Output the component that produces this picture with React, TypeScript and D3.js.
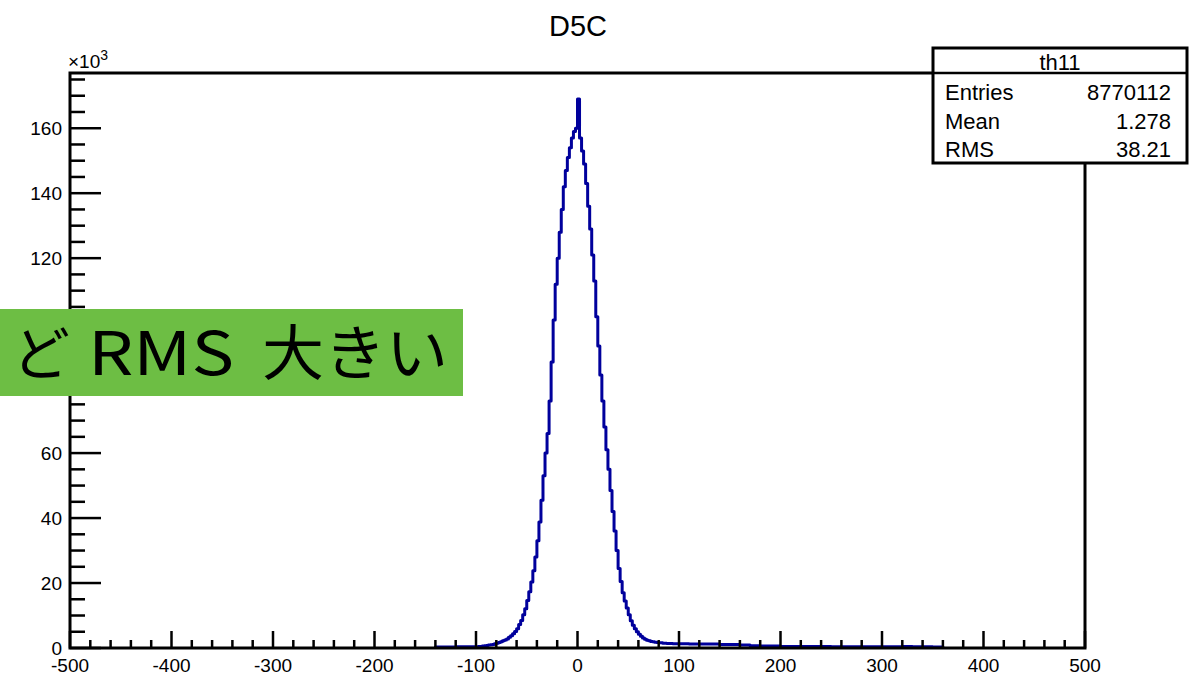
import React, { useEffect, useRef } from 'react';
import * as d3 from 'd3';

// Histogram contents in units of 10^3 entries
// left tail: 10-wide bins from -140 to -100
const leftTailCounts = [0.3, 0.3, 0.4, 0.4];
// core: 2-wide bins from -100 to 100
const coreCounts = [
    0.4, 0.5, 0.5, 0.6, 0.7, 0.8, 0.9, 1.0, 1.1, 1.3,
    1.5, 1.7, 1.9, 2.2, 2.5, 2.8, 3.3, 3.8, 4.4, 5.1,
    5.9, 7.2, 8.5, 10.2, 12.1, 14.6, 17.3, 20.3, 23.8, 28.0,
    33.0, 38.8, 45.5, 53.0, 60.0, 66.0, 76.0, 88.0, 101, 112,
    120, 128, 135, 142, 147, 151, 154, 157, 159, 160,
    169, 157, 153, 149, 143, 136, 129, 121, 113, 102,
    93, 84, 76, 68, 61, 55, 48.5, 42, 36, 30,
    24.5, 20.5, 17, 14.5, 12.3, 10.2, 8.4, 7.0, 5.9, 5.0,
    4.2, 3.6, 3.1, 2.7, 2.4, 2.2, 2.0, 1.9, 1.8, 1.7,
    1.6, 1.6, 1.5, 1.5, 1.4, 1.4, 1.4, 1.3, 1.3, 1.3,
];
// right tail: 10-wide bins from 100 to 360
const rightTailCounts = [
    1.3, 1.2, 1.2, 1.2, 1.1, 1.1, 0.9, 0.7, 0.6, 0.6,
    0.5, 0.5, 0.5, 0.5, 0.5, 0.4, 0.4, 0.4, 0.4, 0.4,
    0.4, 0.4, 0.5, 0.4, 0.4, 0.3,
];

const xTicksMajor = [-500, -400, -300, -200, -100, 0, 100, 200, 300, 400, 500];
const yTicksMajor = [0, 20, 40, 60, 80, 100, 120, 140, 160];

const statsRows = [
    ['Entries', '8770112'],
    ['Mean', '1.278'],
    ['RMS', '38.21'],
];

const App = () => {
    const svgRef = useRef();

    useEffect(() => {
        const svg = d3.select(svgRef.current);
        svg.selectAll('*').remove();

        const font = '"Liberation Sans", Arial, Helvetica, sans-serif';
        const frame = { left: 70, right: 1085, top: 73, bottom: 648 };

        const x = d3.scaleLinear().domain([-500, 500]).range([frame.left, frame.right]);
        const y = d3.scaleLinear().domain([0, 177]).range([frame.bottom, frame.top]);

        // build bin edges / counts
        const bins = [];
        leftTailCounts.forEach((c, i) => bins.push({ lo: -140 + i * 10, hi: -130 + i * 10, c }));
        coreCounts.forEach((c, i) => bins.push({ lo: -100 + i * 2, hi: -98 + i * 2, c }));
        rightTailCounts.forEach((c, i) => bins.push({ lo: 100 + i * 10, hi: 110 + i * 10, c }));

        const pts = [[bins[0].lo, 0]];
        bins.forEach((b) => pts.push([b.lo, b.c]));
        pts.push([bins[bins.length - 1].hi, bins[bins.length - 1].c]);
        pts.push([bins[bins.length - 1].hi, 0]);

        const line = d3.line()
            .x((d) => x(d[0]))
            .y((d) => y(d[1]))
            .curve(d3.curveStepAfter);

        svg.append('path')
            .attr('d', line(pts))
            .attr('fill', 'none')
            .attr('stroke', '#00009c')
            .attr('stroke-width', 3)
            .attr('stroke-linejoin', 'round');

        // frame
        svg.append('rect')
            .attr('x', frame.left)
            .attr('y', frame.top)
            .attr('width', frame.right - frame.left)
            .attr('height', frame.bottom - frame.top)
            .attr('fill', 'none')
            .attr('stroke', '#000')
            .attr('stroke-width', 3);

        // x ticks (pointing up)
        const xMinor = d3.range(-500, 501, 20);
        svg.append('g').selectAll('line')
            .data(xMinor)
            .enter()
            .append('line')
            .attr('x1', (d) => x(d))
            .attr('x2', (d) => x(d))
            .attr('y1', frame.bottom)
            .attr('y2', (d) => frame.bottom - (d % 100 === 0 ? 17 : 8))
            .attr('stroke', '#000')
            .attr('stroke-width', 2.5);

        svg.append('g').selectAll('text')
            .data(xTicksMajor)
            .enter()
            .append('text')
            .attr('x', (d) => x(d))
            .attr('y', 672)
            .attr('text-anchor', 'middle')
            .style('font-family', font)
            .style('font-size', '19px')
            .text((d) => d);

        // y ticks (pointing right)
        const yMinor = d3.range(0, 176, 5);
        svg.append('g').selectAll('line')
            .data(yMinor)
            .enter()
            .append('line')
            .attr('x1', frame.left)
            .attr('x2', (d) => frame.left + (d % 20 === 0 ? 31 : 15))
            .attr('y1', (d) => y(d))
            .attr('y2', (d) => y(d))
            .attr('stroke', '#000')
            .attr('stroke-width', 2.5);

        svg.append('g').selectAll('text')
            .data(yTicksMajor)
            .enter()
            .append('text')
            .attr('x', 62)
            .attr('y', (d) => y(d) + 7)
            .attr('text-anchor', 'end')
            .style('font-family', font)
            .style('font-size', '19px')
            .text((d) => d);

        // x10^3 multiplier
        const mult = svg.append('text')
            .attr('x', 68)
            .attr('y', 68)
            .style('font-family', font)
            .style('font-size', '19px');
        mult.append('tspan').text('\u00d710');
        mult.append('tspan').attr('dy', -8).style('font-size', '14px').text('3');

        // title
        svg.append('text')
            .attr('x', 578)
            .attr('y', 36)
            .attr('text-anchor', 'middle')
            .style('font-family', font)
            .style('font-size', '29px')
            .text('D5C');

        // stats box
        const box = { x: 933, y: 48, w: 254, h: 115 };
        svg.append('rect')
            .attr('x', box.x)
            .attr('y', box.y)
            .attr('width', box.w)
            .attr('height', box.h)
            .attr('fill', '#fff')
            .attr('stroke', '#000')
            .attr('stroke-width', 3);
        svg.append('line')
            .attr('x1', box.x)
            .attr('x2', box.x + box.w)
            .attr('y1', 73)
            .attr('y2', 73)
            .attr('stroke', '#000')
            .attr('stroke-width', 2.5);
        svg.append('text')
            .attr('x', box.x + box.w / 2)
            .attr('y', 70)
            .attr('text-anchor', 'middle')
            .style('font-family', font)
            .style('font-size', '22px')
            .text('th11');
        statsRows.forEach((r, i) => {
            const by = 100 + i * 28.5;
            svg.append('text')
                .attr('x', 945)
                .attr('y', by)
                .style('font-family', font)
                .style('font-size', '22px')
                .text(r[0]);
            svg.append('text')
                .attr('x', 1171)
                .attr('y', by)
                .attr('text-anchor', 'end')
                .style('font-family', font)
                .style('font-size', '22px')
                .text(r[1]);
        });

        // green overlay label
        svg.append('rect')
            .attr('x', 0)
            .attr('y', 309)
            .attr('width', 463)
            .attr('height', 87)
            .attr('fill', '#6dbe44');
        const jp = '"Noto Sans CJK JP", sans-serif';
        svg.append('text')
            .attr('x', 12)
            .attr('y', 375)
            .style('font-family', jp)
            .style('font-size', '58px')
            .text('ど');
        svg.append('text')
            .attr('x', 88)
            .attr('y', 375)
            .attr('textLength', 146)
            .attr('lengthAdjust', 'spacingAndGlyphs')
            .style('font-family', jp)
            .style('font-size', '60px')
            .text('RMS');
        svg.append('text')
            .attr('x', 262)
            .attr('y', 375)
            .attr('textLength', 186)
            .attr('lengthAdjust', 'spacingAndGlyphs')
            .style('font-family', jp)
            .style('font-size', '60px')
            .text('大きい');
    }, []);

    return (
        <svg
            ref={svgRef}
            width={1200}
            height={678}
            style={{ position: 'absolute', left: 0, top: 0, background: '#fff' }}
        ></svg>
    );
};

export default App;
